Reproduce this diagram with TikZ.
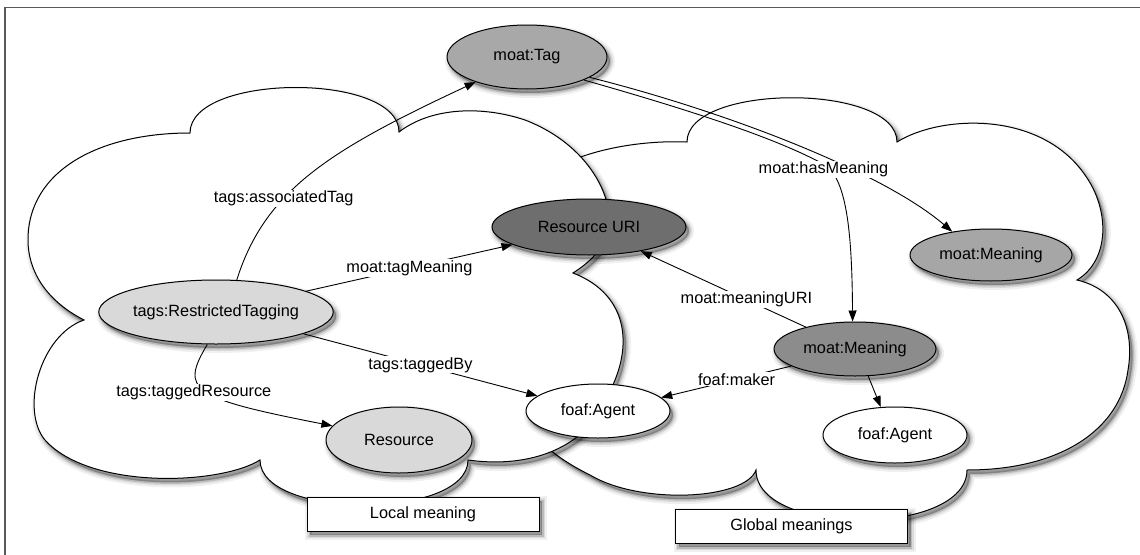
\documentclass[tikz,border=0pt]{standalone}
\usepackage{fontspec}
\setmainfont{Liberation Sans}
\usetikzlibrary{shapes.geometric,arrows.meta}

\tikzset{
  % soft drop shadow built from stacked translucent strokes
  shad/.style={
    preaction={transform canvas={shift={(3pt,-4pt)}}, draw=black, draw opacity=0.06, line width=10pt},
    preaction={transform canvas={shift={(3pt,-4pt)}}, draw=black, draw opacity=0.09, line width=6pt},
    preaction={transform canvas={shift={(3pt,-4pt)}}, draw=black, draw opacity=0.14, line width=3pt,
               fill=black, fill opacity=0.3},
  },
  cloudline/.style={draw=black, line width=1pt, fill=white, shad},
  entity/.style={ellipse, draw=black, line width=1pt, inner sep=0pt, shad},
  rel/.style={draw=black, line width=0.9pt, -{Triangle[length=11pt,width=8pt]}},
  lbl/.style={fill=white, inner sep=1pt},
  caption/.style={rectangle, draw=black, line width=1pt, fill=white,
    minimum width=232pt, minimum height=34pt, inner sep=0pt, shad},
}

\begin{document}
\begin{tikzpicture}[x=1pt, y=-1pt, font=\fontsize{16.3}{19.5}\selectfont]
\useasboundingbox (0,0) rectangle (1140,554);
\clip (0,0) rectangle (1140,554);

% outer frame
\draw[line width=1.2pt, black!65] (5,7.5) rectangle (1160,600);

% global cloud (right), partly covered by the local one
\path[cloudline] (545,175)
  .. controls (580,150) and (640,140) .. (687,142)
  .. controls (687,83) and (897,83) .. (897,142)
  .. controls (940,115) and (1040,110) .. (1085,175)
  .. controls (1110,210) and (1110,260) .. (1077,280)
  .. controls (1120,290) and (1135,330) .. (1128,370)
  .. controls (1120,430) and (1060,470) .. (967,470)
  .. controls (967,537) and (756,537) .. (756,470)
  .. controls (745,500) and (640,505) .. (590,475)
  .. controls (560,460) and (540,445) .. (525,420)
  -- cycle;

% local cloud (left)
\path[cloudline] (84,320)
  .. controls (45,300) and (28,270) .. (28,240)
  .. controls (28,170) and (100,133) .. (190,133)
  .. controls (190,73) and (399,72) .. (399,132)
  .. controls (430,108) and (480,105) .. (525,120)
  .. controls (590,145) and (615,200) .. (608,230)
  .. controls (603,250) and (590,262) .. (573,273)
  .. controls (630,295) and (635,350) .. (605,400)
  .. controls (590,440) and (540,470) .. (468,460)
  .. controls (468,520) and (260,520) .. (260,460)
  .. controls (220,485) and (90,490) .. (45,440)
  .. controls (20,410) and (40,335) .. (84,320)
  -- cycle;

% entities
\node[entity, fill=black!34, minimum width=160pt, minimum height=64pt] (tag)    at (527,57)  {moat:Tag};
\node[entity, fill=black!57, minimum width=194pt, minimum height=56pt] (uri)    at (589,227) {Resource URI};
\node[entity, fill=black!15, minimum width=232pt, minimum height=64pt] (rt)     at (216,312) {tags:RestrictedTagging};
\node[entity, fill=black!15, minimum width=146pt, minimum height=66pt] (res)    at (399,440) {Resource};
\node[entity, fill=white,    minimum width=144pt, minimum height=54pt] (agent1) at (598,411) {foaf:Agent};
\node[entity, fill=black!35, minimum width=162pt, minimum height=52pt] (mean1)  at (991,255) {moat:Meaning};
\node[entity, fill=black!45, minimum width=162pt, minimum height=54pt] (mean2)  at (855,349) {moat:Meaning};
\node[entity, fill=white,    minimum width=144pt, minimum height=56pt] (agent2) at (895,435) {foaf:Agent};

% relations
\draw[rel] (rt.57) .. controls (265,190) and (330,150) .. (tag.206)
  node[lbl, pos=0.36] {tags:associatedTag};
\draw[rel] (rt.13) -- node[lbl] {moat:tagMeaning} (uri.193);
\draw[rel] (rt.346) -- node[lbl] {tags:taggedBy} (agent1.166);
\draw[rel] (rt.255) .. controls (180,390) and (190,398) .. (res.168)
  node[lbl, pos=0.45, xshift=-8pt, yshift=-4pt] {tags:taggedResource};
\draw[rel] (tag.338) .. controls (700,113) and (780,140) .. (825,165)
  .. controls (848,180) and (852,240) .. (mean2.95);
\draw[rel] (tag.342) .. controls (720,110) and (880,170) .. (mean1.149)
  node[lbl, pos=0.58, yshift=-13pt] {moat:hasMeaning};
\draw[rel] (mean2.156) -- node[lbl, pos=0.36] {moat:meaningURI} (uri.335);
\draw[rel] (mean2.195) -- node[lbl, pos=0.42] {foaf:maker} (agent1.12);
\draw[rel] (mean2.296) -- (agent2.117);

% captions
\node[caption] (local)  at (423,514)   {Local meaning};
\node[caption] (global) at (791.5,526) {Global meanings};
\end{tikzpicture}
\end{document}
